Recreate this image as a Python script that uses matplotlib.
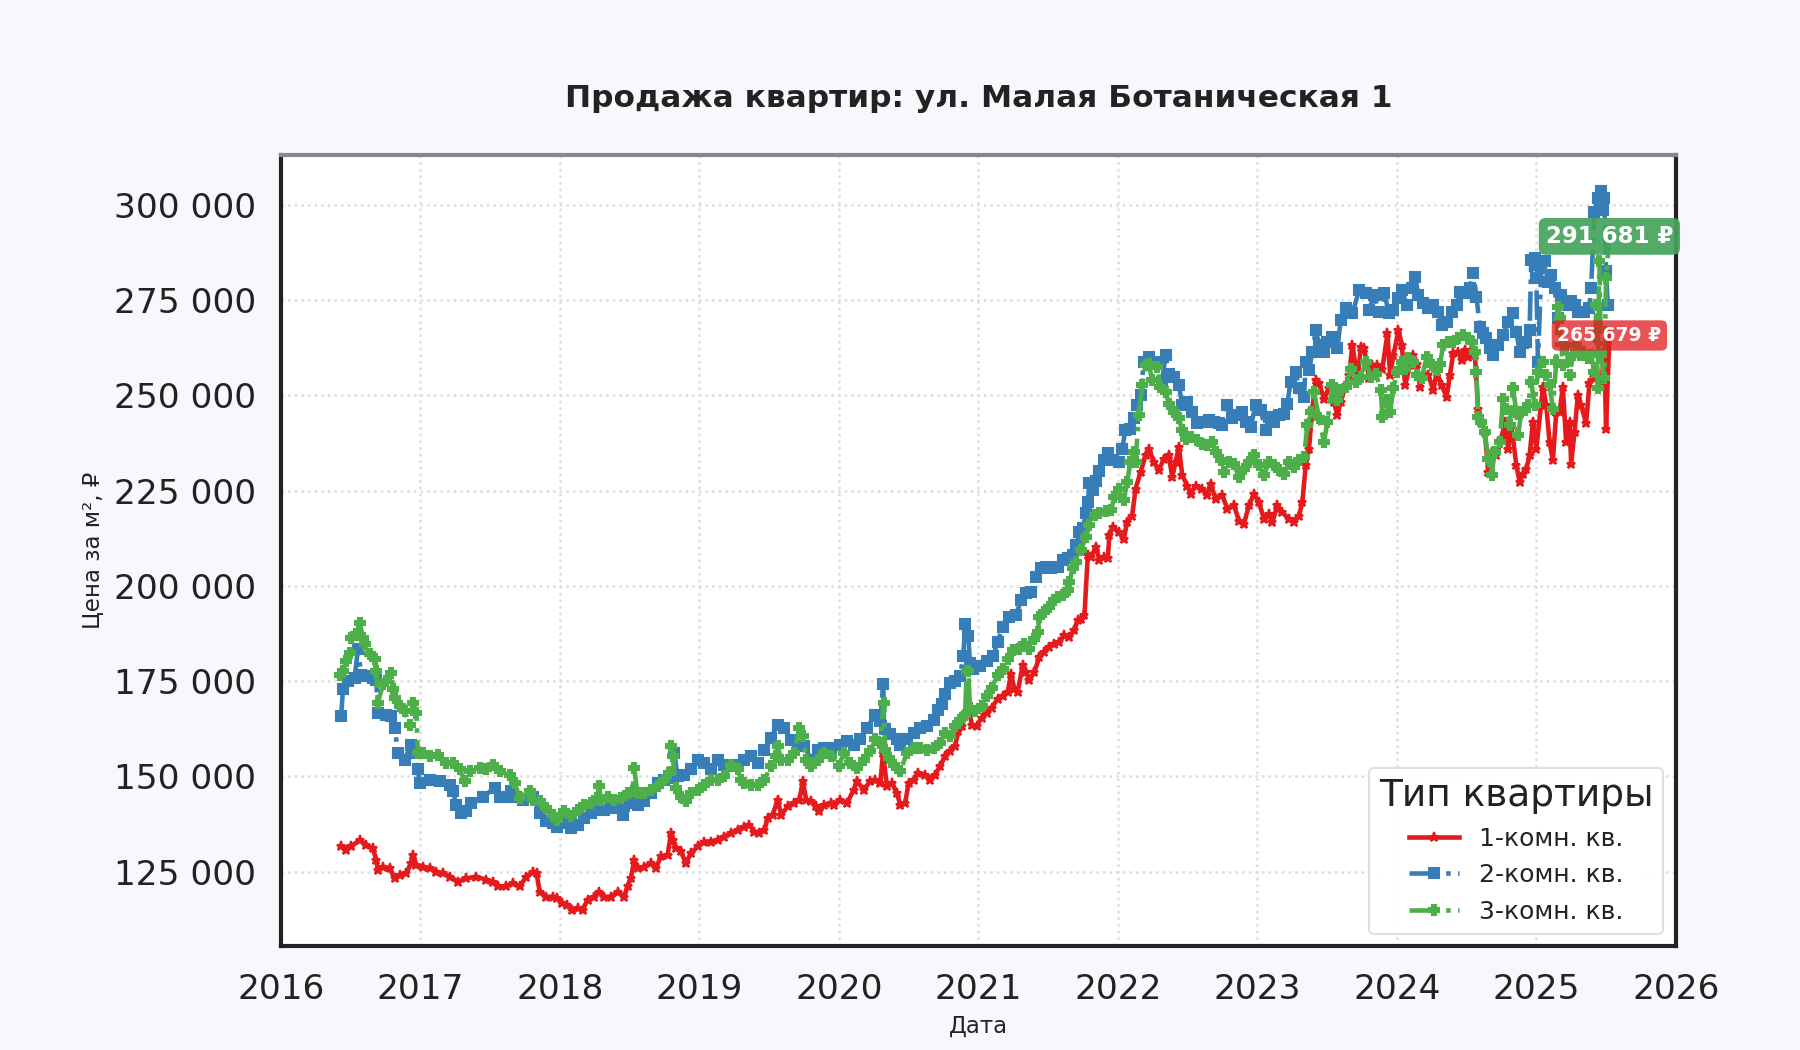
import matplotlib
matplotlib.use("Agg")
import matplotlib.pyplot as plt
from matplotlib.ticker import FuncFormatter, FixedLocator

plt.rcParams['font.family'] = ['DejaVu Sans']

# ---------------- data (fractional year, price per m2) ----------------
r1_x = [2016.433, 2016.469, 2016.505, 2016.565, 2016.612, 2016.660, 2016.684, 2016.696, 2016.732, 2016.780,
        2016.816, 2016.852, 2016.900, 2016.935, 2016.947, 2016.971, 2017.019, 2017.067, 2017.115, 2017.163,
        2017.211, 2017.270, 2017.330, 2017.402, 2017.474, 2017.522, 2017.557, 2017.617, 2017.665, 2017.713,
        2017.761, 2017.809, 2017.833, 2017.856, 2017.904, 2017.952, 2017.983, 2018.019, 2018.055, 2018.091,
        2018.127, 2018.163, 2018.199, 2018.246, 2018.282, 2018.318, 2018.366, 2018.414, 2018.462, 2018.486,
        2018.510, 2018.533, 2018.557, 2018.605, 2018.653, 2018.689, 2018.725, 2018.773, 2018.797, 2018.809,
        2018.833, 2018.868, 2018.904, 2018.940, 2018.988, 2019.036, 2019.084, 2019.132, 2019.179, 2019.227,
        2019.275, 2019.323, 2019.359, 2019.395, 2019.431, 2019.467, 2019.490, 2019.526, 2019.562, 2019.586,
        2019.634, 2019.682, 2019.718, 2019.742, 2019.766, 2019.801, 2019.837, 2019.861, 2019.897, 2019.945,
        2019.964, 2020.012, 2020.060, 2020.107, 2020.131, 2020.179, 2020.226, 2020.262, 2020.298, 2020.317,
        2020.345, 2020.381, 2020.417, 2020.440, 2020.476, 2020.500, 2020.536, 2020.571, 2020.619, 2020.655,
        2020.690, 2020.726, 2020.762, 2020.798, 2020.833, 2020.857, 2020.881, 2020.905, 2020.929, 2020.952,
        2020.988, 2021.024, 2021.060, 2021.095, 2021.139, 2021.175, 2021.211, 2021.234, 2021.258, 2021.282,
        2021.318, 2021.342, 2021.366, 2021.402, 2021.438, 2021.474, 2021.510, 2021.545, 2021.581, 2021.617,
        2021.653, 2021.689, 2021.713, 2021.737, 2021.761, 2021.785, 2021.809, 2021.844, 2021.868, 2021.904,
        2021.928, 2021.940, 2021.964, 2022.007, 2022.043, 2022.067, 2022.103, 2022.127, 2022.163, 2022.199,
        2022.222, 2022.258, 2022.294, 2022.330, 2022.366, 2022.390, 2022.414, 2022.438, 2022.462, 2022.498,
        2022.522, 2022.557, 2022.605, 2022.641, 2022.665, 2022.701, 2022.749, 2022.785, 2022.833, 2022.868,
        2022.904, 2022.940, 2022.976, 2023.012, 2023.048, 2023.084, 2023.108, 2023.144, 2023.179, 2023.227,
        2023.263, 2023.299, 2023.323, 2023.347, 2023.371, 2023.395, 2023.419, 2023.443, 2023.478, 2023.514,
        2023.550, 2023.574, 2023.598, 2023.634, 2023.658, 2023.682, 2023.718, 2023.742, 2023.766, 2023.801,
        2023.825, 2023.861, 2023.897, 2023.933, 2023.952, 2023.976, 2024.012, 2024.036, 2024.060, 2024.095,
        2024.119, 2024.143, 2024.167, 2024.190, 2024.226, 2024.262, 2024.286, 2024.321, 2024.357, 2024.381,
        2024.405, 2024.440, 2024.464, 2024.488, 2024.512, 2024.536, 2024.560, 2024.583, 2024.607, 2024.631,
        2024.655, 2024.679, 2024.714, 2024.750, 2024.774, 2024.798, 2024.821, 2024.857, 2024.881, 2024.905,
        2024.929, 2024.952, 2024.976, 2025.000, 2025.048, 2025.071, 2025.095, 2025.119, 2025.143, 2025.167,
        2025.190, 2025.214, 2025.238, 2025.250, 2025.274, 2025.298, 2025.321, 2025.357, 2025.381, 2025.417,
        2025.440, 2025.464, 2025.488, 2025.500, 2025.524]
r1_y = [131600, 130700, 131600, 133300, 132000, 131100, 128100, 125400, 126300, 125900,
        123200, 124100, 124600, 127200, 129400, 126800, 126300, 125900, 125000, 124600,
        123700, 122400, 123200, 123700, 122800, 122400, 121100, 121100, 121900, 121100,
        123700, 125000, 124600, 119700, 118400, 118400, 118000, 116700, 116200, 114900,
        115400, 114900, 117600, 118400, 119700, 118400, 118400, 119700, 118400, 121100,
        123300, 128100, 125900, 126300, 127200, 125900, 129000, 129400, 135100, 133300,
        131100, 130300, 127200, 129800, 131600, 132900, 132900, 133300, 134200, 135100,
        136000, 136800, 137300, 135500, 135100, 136000, 139000, 139900, 143900, 139900,
        142100, 143000, 143900, 148700, 143900, 143400, 142100, 140800, 142500, 143000,
        142500, 143900, 143000, 146500, 148700, 146500, 148700, 149100, 148200, 156100,
        147400, 148200, 145600, 142500, 143000, 148200, 149100, 150900, 150400, 149100,
        150400, 152600, 155300, 156600, 157900, 161800, 163200, 166700, 168900, 163600,
        163200, 165400, 166700, 168000, 170300, 171200, 172100, 176900, 173000, 172100,
        179100, 177400, 175200, 177400, 181300, 182600, 184000, 184800, 185300, 187000,
        186600, 188300, 191000, 191400, 192300, 208100, 207600, 210300, 206700, 207600,
        207200, 213300, 215500, 214000, 212300, 216700, 218400, 225400, 229800, 234200,
        236000, 232500, 230300, 233300, 234200, 228500, 232500, 236400, 229000, 226300,
        224100, 226300, 225400, 223700, 226800, 222800, 223700, 220200, 221100, 217100,
        216200, 221100, 224100, 221900, 217500, 218900, 216700, 221100, 219300, 217500,
        216700, 218400, 221900, 231600, 236000, 246500, 254000, 253100, 249100, 251800,
        248200, 244700, 248200, 252600, 255300, 263200, 254000, 262700, 262300, 254400,
        257900, 257900, 257000, 266200, 255300, 260500, 267100, 263200, 252600, 257900,
        260500, 258300, 252200, 255700, 255300, 251300, 256100, 252600, 249600, 255300,
        261000, 261400, 259200, 261800, 260100, 261800, 260500, 246500, 243000, 240400,
        229800, 235100, 234200, 238600, 243000, 236000, 242100, 231600, 227200, 229400,
        230700, 234200, 243000, 236000, 252200, 247400, 237700, 232900, 245600, 245600,
        252200, 237700, 243000, 232000, 240400, 250000, 247400, 242600, 253100, 254800,
        254400, 252200, 261400, 241200, 265679]

r2_x = [2016.433, 2016.445, 2016.481, 2016.529, 2016.553, 2016.577, 2016.600, 2016.660, 2016.684, 2016.696,
        2016.756, 2016.792, 2016.816, 2016.840, 2016.887, 2016.935, 2016.947, 2016.983, 2016.995, 2017.067,
        2017.139, 2017.211, 2017.234, 2017.258, 2017.294, 2017.330, 2017.366, 2017.450, 2017.533, 2017.569,
        2017.617, 2017.653, 2017.689, 2017.737, 2017.809, 2017.856, 2017.904, 2017.952, 2017.983, 2018.031,
        2018.079, 2018.127, 2018.175, 2018.222, 2018.270, 2018.318, 2018.366, 2018.414, 2018.450, 2018.462,
        2018.510, 2018.557, 2018.605, 2018.653, 2018.701, 2018.749, 2018.797, 2018.821, 2018.844, 2018.892,
        2018.940, 2018.988, 2019.036, 2019.084, 2019.132, 2019.179, 2019.227, 2019.275, 2019.323, 2019.371,
        2019.419, 2019.467, 2019.514, 2019.562, 2019.610, 2019.658, 2019.706, 2019.754, 2019.801, 2019.849,
        2019.897, 2019.945, 2020.012, 2020.060, 2020.107, 2020.155, 2020.202, 2020.262, 2020.298, 2020.317,
        2020.333, 2020.369, 2020.417, 2020.440, 2020.488, 2020.536, 2020.583, 2020.631, 2020.679, 2020.714,
        2020.738, 2020.762, 2020.798, 2020.833, 2020.869, 2020.893, 2020.905, 2020.929, 2020.940, 2020.964,
        2021.012, 2021.060, 2021.107, 2021.139, 2021.175, 2021.222, 2021.270, 2021.306, 2021.342, 2021.378,
        2021.414, 2021.450, 2021.486, 2021.522, 2021.569, 2021.605, 2021.641, 2021.677, 2021.701, 2021.725,
        2021.749, 2021.773, 2021.785, 2021.797, 2021.821, 2021.844, 2021.868, 2021.904, 2021.928, 2021.964,
        2022.007, 2022.031, 2022.055, 2022.091, 2022.115, 2022.139, 2022.163, 2022.187, 2022.222, 2022.258,
        2022.294, 2022.318, 2022.342, 2022.366, 2022.402, 2022.438, 2022.462, 2022.498, 2022.533, 2022.569,
        2022.617, 2022.653, 2022.689, 2022.725, 2022.749, 2022.785, 2022.821, 2022.856, 2022.892, 2022.916,
        2022.952, 2022.988, 2023.024, 2023.060, 2023.084, 2023.120, 2023.156, 2023.191, 2023.215, 2023.239,
        2023.275, 2023.299, 2023.335, 2023.347, 2023.371, 2023.395, 2023.419, 2023.443, 2023.478, 2023.502,
        2023.538, 2023.574, 2023.598, 2023.634, 2023.682, 2023.730, 2023.778, 2023.801, 2023.837, 2023.873,
        2023.909, 2023.945, 2023.976, 2024.012, 2024.036, 2024.071, 2024.107, 2024.131, 2024.155, 2024.190,
        2024.226, 2024.262, 2024.298, 2024.321, 2024.357, 2024.393, 2024.429, 2024.452, 2024.488, 2024.524,
        2024.548, 2024.571, 2024.595, 2024.619, 2024.643, 2024.667, 2024.690, 2024.726, 2024.762, 2024.798,
        2024.833, 2024.857, 2024.881, 2024.905, 2024.929, 2024.952, 2024.964, 2024.988, 2025.000, 2025.012,
        2025.036, 2025.060, 2025.083, 2025.107, 2025.131, 2025.155, 2025.179, 2025.202, 2025.226, 2025.250,
        2025.274, 2025.298, 2025.345, 2025.381, 2025.393, 2025.417, 2025.440, 2025.464, 2025.476, 2025.488,
        2025.500, 2025.512]
r2_y = [165800, 172800, 175000, 175900, 183300, 176700, 176300, 175900, 175400, 166700,
        166200, 165800, 162700, 156100, 154400, 158300, 156100, 151800, 148200, 149100,
        148700, 147800, 146100, 142500, 140400, 140800, 143000, 144700, 146900, 144700,
        144700, 146100, 144700, 143900, 144700, 140400, 138200, 137700, 136800, 137700,
        136400, 137300, 139000, 140400, 141200, 141200, 141700, 142100, 139900, 142100,
        143000, 142500, 143400, 145600, 148200, 149100, 149600, 156100, 150000, 150400,
        151800, 154400, 153500, 151800, 154400, 153100, 152600, 153100, 154400, 155300,
        153500, 157000, 160100, 163600, 162700, 159600, 157900, 157900, 154400, 157000,
        157500, 157500, 158300, 159200, 158300, 159700, 162700, 166200, 164500, 174100,
        162300, 161000, 159700, 158300, 159700, 161400, 162700, 163200, 164900, 167500,
        168900, 171500, 174600, 175000, 176300, 181600, 189900, 186800, 179800, 178100,
        178900, 180300, 181600, 185300, 189200, 191800, 192300, 196200, 198000, 198400,
        202400, 204600, 205000, 204600, 205000, 206800, 207200, 208100, 210700, 214200,
        215100, 219000, 222100, 226900, 225200, 227400, 230000, 233100, 234800, 233100,
        232500, 236000, 240800, 241200, 243900, 247400, 250000, 258800, 260100, 258300,
        258800, 253500, 260500, 255700, 254800, 252600, 247400, 248200, 245600, 242600,
        243000, 243400, 243000, 242600, 242100, 247400, 243900, 244700, 245600, 243000,
        241700, 247400, 246100, 240800, 244300, 243000, 244700, 245200, 247800, 253500,
        256100, 251800, 249600, 258800, 256600, 261400, 267100, 263200, 261400, 264000,
        265400, 262300, 269700, 272800, 271500, 277600, 276800, 272400, 276300, 271900,
        276800, 271500, 272400, 275400, 277600, 273700, 278100, 281100, 276300, 274100,
        272800, 273700, 271900, 268400, 269300, 271900, 273700, 277200, 276800, 278100,
        282000, 275900, 268000, 266200, 264900, 262300, 260500, 263200, 265800, 269300,
        271500, 266700, 261400, 263600, 264000, 267100, 285500, 286000, 280700, 258800,
        283300, 285100, 279800, 281600, 278100, 270200, 276300, 274100, 273700, 274600,
        273700, 271900, 271900, 272800, 278100, 298200, 301700, 303500, 298700, 301700,
        282500, 273700]

r3_x = [2016.421, 2016.445, 2016.469, 2016.493, 2016.505, 2016.541, 2016.565, 2016.589, 2016.600, 2016.636,
        2016.672, 2016.684, 2016.696, 2016.732, 2016.756, 2016.792, 2016.804, 2016.816, 2016.852, 2016.887,
        2016.923, 2016.947, 2016.971, 2016.983, 2017.019, 2017.067, 2017.127, 2017.187, 2017.234, 2017.282,
        2017.318, 2017.354, 2017.426, 2017.474, 2017.522, 2017.569, 2017.641, 2017.677, 2017.713, 2017.785,
        2017.809, 2017.856, 2017.904, 2017.952, 2017.983, 2018.031, 2018.079, 2018.127, 2018.175, 2018.222,
        2018.270, 2018.282, 2018.294, 2018.342, 2018.390, 2018.438, 2018.486, 2018.522, 2018.533, 2018.557,
        2018.605, 2018.653, 2018.701, 2018.749, 2018.785, 2018.797, 2018.809, 2018.833, 2018.868, 2018.904,
        2018.940, 2018.988, 2019.036, 2019.084, 2019.132, 2019.179, 2019.227, 2019.275, 2019.299, 2019.323,
        2019.371, 2019.419, 2019.467, 2019.514, 2019.550, 2019.562, 2019.586, 2019.634, 2019.682, 2019.718,
        2019.742, 2019.766, 2019.801, 2019.849, 2019.897, 2019.945, 2020.000, 2020.036, 2020.083, 2020.131,
        2020.179, 2020.226, 2020.262, 2020.298, 2020.321, 2020.333, 2020.357, 2020.393, 2020.440, 2020.488,
        2020.536, 2020.583, 2020.631, 2020.679, 2020.726, 2020.762, 2020.798, 2020.833, 2020.869, 2020.905,
        2020.917, 2020.929, 2020.940, 2020.976, 2021.024, 2021.060, 2021.095, 2021.139, 2021.175, 2021.211,
        2021.246, 2021.294, 2021.330, 2021.366, 2021.402, 2021.426, 2021.438, 2021.474, 2021.510, 2021.545,
        2021.569, 2021.605, 2021.641, 2021.653, 2021.677, 2021.701, 2021.737, 2021.773, 2021.797, 2021.833,
        2021.868, 2021.916, 2021.952, 2021.976, 2022.007, 2022.043, 2022.067, 2022.091, 2022.115, 2022.127,
        2022.151, 2022.175, 2022.199, 2022.222, 2022.246, 2022.282, 2022.306, 2022.342, 2022.366, 2022.402,
        2022.438, 2022.462, 2022.486, 2022.522, 2022.569, 2022.605, 2022.641, 2022.677, 2022.701, 2022.737,
        2022.761, 2022.797, 2022.833, 2022.868, 2022.904, 2022.940, 2022.976, 2023.012, 2023.048, 2023.084,
        2023.120, 2023.156, 2023.191, 2023.227, 2023.263, 2023.299, 2023.335, 2023.359, 2023.383, 2023.407,
        2023.443, 2023.478, 2023.502, 2023.538, 2023.574, 2023.598, 2023.634, 2023.670, 2023.706, 2023.742,
        2023.778, 2023.813, 2023.849, 2023.885, 2023.897, 2023.933, 2023.952, 2023.976, 2024.000, 2024.036,
        2024.060, 2024.083, 2024.119, 2024.143, 2024.179, 2024.214, 2024.250, 2024.286, 2024.310, 2024.333,
        2024.369, 2024.405, 2024.440, 2024.476, 2024.512, 2024.536, 2024.560, 2024.571, 2024.583, 2024.607,
        2024.631, 2024.655, 2024.679, 2024.702, 2024.738, 2024.762, 2024.786, 2024.810, 2024.833, 2024.857,
        2024.869, 2024.893, 2024.917, 2024.940, 2024.964, 2024.988, 2025.012, 2025.048, 2025.071, 2025.095,
        2025.119, 2025.143, 2025.155, 2025.167, 2025.190, 2025.214, 2025.238, 2025.262, 2025.286, 2025.310,
        2025.333, 2025.369, 2025.393, 2025.417, 2025.429, 2025.440, 2025.452, 2025.464, 2025.488, 2025.500,
        2025.524]
r3_y = [176700, 177600, 180300, 182400, 186400, 187300, 190300, 186400, 184600, 182000,
        180700, 177600, 169300, 174100, 175000, 177200, 172800, 170600, 168400, 167100,
        163600, 169300, 166700, 156100, 156100, 155300, 155700, 153500, 153500, 151800,
        148700, 151300, 152200, 151800, 153100, 151300, 150400, 148200, 144300, 146100,
        143900, 143400, 141700, 139900, 138600, 140800, 139500, 141200, 142500, 143000,
        144300, 147400, 143900, 144700, 143900, 144300, 145600, 146100, 152200, 145600,
        145600, 146500, 147400, 149100, 150900, 157900, 155300, 146900, 144700, 143400,
        145600, 146500, 147800, 149100, 149100, 150000, 153100, 151800, 149100, 148200,
        147800, 147800, 149100, 152600, 155300, 157900, 154400, 154400, 156100, 162700,
        160500, 154400, 152600, 154400, 156100, 155300, 152600, 156100, 153500, 152200,
        154400, 156600, 159700, 158800, 169300, 157000, 154800, 153100, 151300, 156100,
        157500, 157500, 157000, 157500, 158800, 161400, 160500, 163200, 164900, 166200,
        177600, 177600, 168000, 167100, 168400, 171100, 173200, 176500, 178200, 180900,
        183100, 183500, 184800, 183500, 186100, 187900, 191800, 193200, 194500, 196200,
        197100, 197500, 198900, 201100, 204600, 206300, 209400, 212900, 216000, 218600,
        219000, 219500, 219900, 223400, 225400, 222400, 227200, 232500, 235100, 232500,
        244700, 252600, 257900, 258300, 254000, 257500, 252200, 250900, 247800, 245600,
        243900, 240800, 238600, 239000, 238200, 237300, 236900, 237700, 235100, 232900,
        229800, 232500, 232000, 228500, 230700, 232500, 234200, 231600, 229000, 232500,
        231600, 230300, 229400, 232500, 231100, 232900, 233800, 242100, 245600, 250900,
        243900, 237700, 243000, 252600, 248700, 251300, 252200, 257000, 253500, 254800,
        258800, 254800, 255700, 251300, 244300, 248700, 245600, 251800, 256100, 258800,
        257000, 259700, 258800, 255300, 254400, 260100, 257900, 256600, 258300, 263200,
        264000, 264000, 264900, 265800, 264900, 264000, 261400, 256100, 244300, 243000,
        240400, 233300, 229000, 235100, 237700, 249100, 246500, 242100, 251800, 245600,
        239500, 245600, 246100, 247400, 253500, 247400, 256100, 258800, 255300, 252600,
        246500, 258800, 273200, 270200, 257900, 263200, 255300, 260500, 263200, 260500,
        261400, 259700, 260500, 256100, 273700, 251800, 285100, 260500, 254400, 280700,
        291681]

series_names = ['1-комн. кв.', '2-комн. кв.', '3-комн. кв.']
series_colors = ['#e41a1c', '#377eb8', '#4daf4a']
label_box_colors = ['#e41a1c', '#45a35c']
year_ticks = [2016, 2017, 2018, 2019, 2020, 2021, 2022, 2023, 2024, 2025, 2026]
y_ticks = [125000, 150000, 175000, 200000, 225000, 250000, 275000, 300000]

# ---------------- figure ----------------
fig = plt.figure(figsize=(12, 7), dpi=150, facecolor='#f7f8fb')
ax = fig.add_axes([0.156, 0.099, 0.775, 0.753])
ax.set_facecolor('white')

ax.plot(r1_x, r1_y, color=series_colors[0], linestyle='-', linewidth=2.2,
        marker='*', markersize=4.5, label=series_names[0], zorder=3)
ax.plot(r2_x, r2_y, color=series_colors[1], linestyle='-.', linewidth=2.2,
        marker='s', markersize=4.5, label=series_names[1], zorder=3)
ax.plot(r3_x, r3_y, color=series_colors[2], linestyle='-.', linewidth=2.2,
        marker='P', markersize=4.5, label=series_names[2], zorder=3)

# last-value labels
ax.annotate(f"{r3_y[-1]:,}".replace(",", " ") + " ₽", xy=(r3_x[-1], r3_y[-1]),
            ha='center', va='center', fontsize=11, fontweight='bold', color='white', zorder=6,
            bbox=dict(boxstyle='round,pad=0.3', fc=label_box_colors[1], ec='none', alpha=0.92))
ax.annotate(f"{r1_y[-1]:,}".replace(",", " ") + " ₽", xy=(r1_x[-1], r1_y[-1]),
            ha='center', va='center', fontsize=9, fontweight='bold', color='white', zorder=6,
            bbox=dict(boxstyle='round,pad=0.3', fc=label_box_colors[0], ec='none', alpha=0.75))

ax.set_xlim(2016, 2026)
ax.xaxis.set_major_locator(FixedLocator(year_ticks))
ax.xaxis.set_major_formatter(FuncFormatter(lambda v, p: f"{int(round(v))}"))
ax.yaxis.set_major_locator(FixedLocator(y_ticks))
ax.yaxis.set_major_formatter(FuncFormatter(lambda v, p: f"{int(v):,}".replace(",", " ")))

ax.tick_params(axis='both', length=0, labelsize=16.5, colors='#222222')
ax.tick_params(axis='x', pad=13)
ax.tick_params(axis='y', pad=12)

ax.grid(True, linestyle=':', color='#dddddd', linewidth=1.2, zorder=0)
ax.set_axisbelow(True)

for side in ['left', 'bottom', 'right']:
    ax.spines[side].set_color('#222222')
    ax.spines[side].set_linewidth(2)
ax.spines['top'].set_color('#888888')
ax.spines['top'].set_linewidth(2)

ax.set_title('Продажа квартир: ул. Малая Ботаническая 1', fontsize=15,
             fontweight='bold', color='#222222', pad=23)
ax.set_xlabel('Дата', fontsize=11, color='#222222', labelpad=4)
ax.set_ylabel('Цена за м², ₽', fontsize=11, color='#222222', labelpad=4)

leg = ax.legend(title='Тип квартиры', loc='lower right', fontsize=12, title_fontsize=18,
                frameon=True, fancybox=True, framealpha=0.95, edgecolor='#dddddd',
                facecolor='white', borderaxespad=0.5)
for t in leg.get_texts():
    t.set_color('#222222')
leg.get_title().set_color('#222222')

fig.savefig('out.png', dpi=150, facecolor=fig.get_facecolor())
